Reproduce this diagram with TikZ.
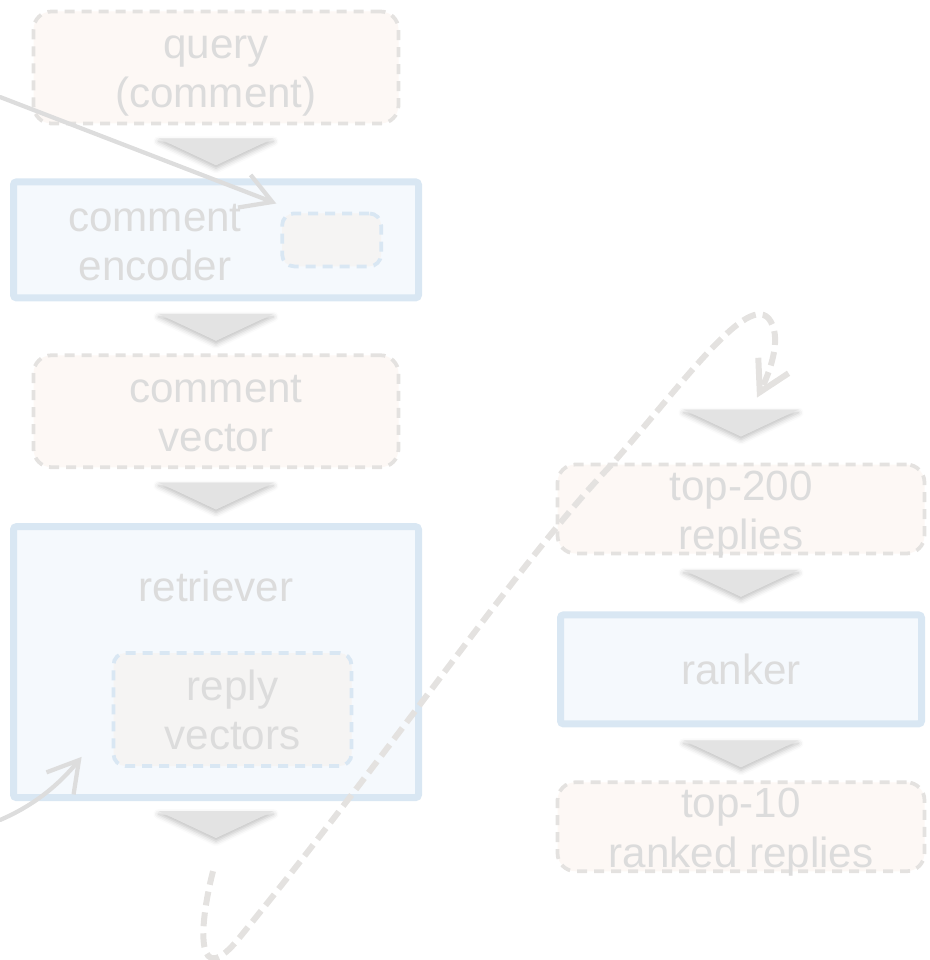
\documentclass[tikz,border=0pt]{standalone}
\usepackage{fontspec}
\setmainfont{Liberation Sans}
\usetikzlibrary{positioning, arrows.meta, calc, shadows.blur}

\definecolor{txtgray}{HTML}{DCDCDC}
\definecolor{dashgray}{HTML}{E4E2E0}
\definecolor{datafill}{HTML}{FDF8F5}
\definecolor{modelblue}{HTML}{D9E7F3}
\definecolor{modelfill}{HTML}{F5F9FD}
\definecolor{slotfill}{HTML}{F5F4F3}
\definecolor{chevgray}{HTML}{E3E3E3}
\definecolor{arrowgray}{HTML}{DDDDDD}

% una linea de texto con altura fija
\newcommand{\lnstrut}{\rule[-5pt]{0pt}{28pt}}

\begin{document}
\begin{tikzpicture}[
    font=\fontsize{24}{28}\selectfont,
    text=txtgray,
    databox/.style={
        rectangle,
        rounded corners=0.36cm,
        draw=dashgray,
        fill=datafill,
        dash pattern=on 0.2cm off 0.14cm,
        line width=0.075cm,
        minimum width=7.3cm,
        minimum height=2.24cm,
        inner ysep=2pt,
        align=center
    },
    modelbox/.style={
        rectangle,
        rounded corners=0.06cm,
        draw=modelblue,
        fill=modelfill,
        line width=0.14cm,
        minimum width=8.1cm,
        align=center
    },
    slotbox/.style={
        rectangle,
        rounded corners=0.24cm,
        draw=modelblue,
        fill=slotfill,
        dash pattern=on 0.2cm off 0.14cm,
        line width=0.075cm,
        inner ysep=2pt,
        align=center
    },
    flow/.style={-{Straight Barb[length=0.6cm, width=0.7cm]}, line width=0.085cm, draw=arrowgray, line cap=round},
    loopflow/.style={-{Straight Barb[length=0.6cm, width=0.68cm]}, line width=0.12cm, draw=dashgray, dash pattern=on 0.28cm off 0.14cm},
    chevfill/.style={fill=chevgray, blur shadow={shadow xshift=0pt, shadow yshift=-0.06cm, shadow blur radius=0.1cm, shadow opacity=25}},
    chevron/.pic={\fill[chevfill] (-1.15,0.27) -- (1.15,0.27) -- (0,-0.27) -- cycle;}
]
\useasboundingbox (0,0) rectangle (18.6,-19.2);

% --- Columna izquierda ---
\node[databox] (query) at (4.32,-1.35) {\lnstrut query\\\lnstrut (comment)};
\node[modelbox, minimum height=2.32cm, below=1.06cm of query,
      label={[align=center, xshift=-1.22cm]center:\lnstrut comment\\\lnstrut encoder}] (enc) {};
\node[slotbox, minimum width=1.98cm, minimum height=1.06cm, left=0.78cm of enc.east] (slot) {};
\node[databox, below=1.04cm of enc] (vec) {\lnstrut comment\\\lnstrut vector};
\node[modelbox, minimum height=5.42cm, below=1.08cm of vec,
      label={[anchor=center, yshift=-1.26cm]north:retriever}] (ret) {};
\node[slotbox, minimum width=4.76cm, minimum height=2.26cm, below=2.56cm of ret.north, xshift=0.33cm] (rv) {\lnstrut reply\\\lnstrut vectors};

% --- Columna derecha ---
\node[databox, minimum width=7.34cm, minimum height=1.78cm, at={(14.82,-10.18)},
      label={[align=center]center:\lnstrut top-200\\\lnstrut replies}] (top200) {};
\node[modelbox, minimum width=7.22cm, minimum height=2.18cm, below=1.12cm of top200] (ranker) {ranker};
\node[databox, minimum width=7.34cm, minimum height=1.78cm, below=1.06cm of ranker,
      label={[align=center]center:\lnstrut top-10\\\lnstrut ranked replies}] (top10) {};

% --- Chevrones ---
\pic at ($(query.south)!0.5!(enc.north)$) {chevron};
\pic at ($(enc.south)!0.5!(vec.north)$) {chevron};
\pic at ($(vec.south)!0.5!(ret.north)$) {chevron};
\pic at ($(ret.south)+(0,-0.47)$) {chevron};
\pic at ($(top200.north)+(0,0.79)$) {chevron};
\pic at ($(top200.south)!0.5!(ranker.north)$) {chevron};
\pic at ($(ranker.south)!0.5!(top10.north)$) {chevron};

% --- Flechas ---
\coordinate (qin) at (0,-1.94);
\coordinate (qtip) at ($(slot.north west)+(-0.08,0.16)$);
\draw[flow] (qin) -- (qtip);

\coordinate (rin) at (0,-16.4);
\coordinate (rtip) at ($(rv.south west)+(-0.6,0.22)$);
\draw[flow] (rin) .. controls +(0.7,0.3) and +(-0.44,-0.54) .. (rtip);

\coordinate (loopstart) at ($(ret.south)+(-0.06,-1.4)$);
\coordinate (looptip) at ($(top200.north)+(0.32,1.3)$);
\draw[loopflow] (loopstart) .. controls (3.96,-18.6) and (3.92,-19.84) .. (4.8,-18.74)
    .. controls (8.0,-14.8) and (10.4,-11.2) .. (12.26,-9.26)
    .. controls (13.8,-7.5) and (15.2,-5.5) .. (15.48,-6.6)
    .. controls (15.58,-7.0) and (15.32,-7.6) .. (looptip);

\end{tikzpicture}
\end{document}
